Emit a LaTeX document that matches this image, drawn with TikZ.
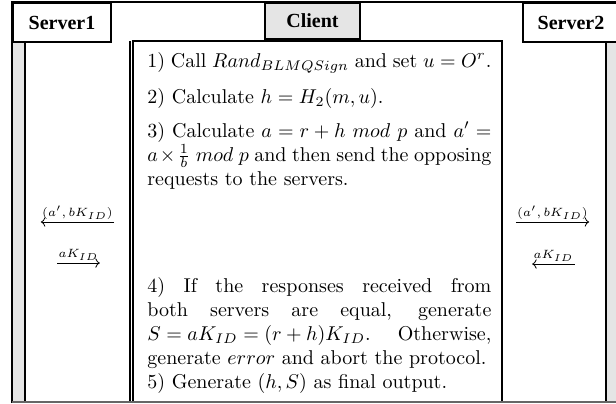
\documentclass[tikz,border=0pt]{standalone}
\usepackage{amsmath}
\usepackage{amssymb}
\usepackage{fontspec}
\newfontfamily\hdrfont{Liberation Serif}
\usetikzlibrary{arrows.meta}
\usetikzlibrary{positioning}

\begin{document}
\begin{tikzpicture}[x=0.5pt, y=-0.5pt,
        party/.style={draw, line width=1pt, inner sep=0pt, anchor=north west, font=\hdrfont\bfseries},
        stepnode/.style={text width=172pt, align=justify, inner sep=0pt, anchor=base west},
        msg/.style={font=\fontsize{6}{7}\selectfont, inner xsep=0.5pt, inner ysep=1pt, anchor=south},
        lane/.style={line width=0.6pt},
        >={Computer Modern Rightarrow[scale=0.9]}]
                \useasboundingbox (0,0) rectangle (616,403);
                % lanes
                \fill[gray!20] (12,41) rectangle (25,403);
                \fill[gray!20] (606,41) rectangle (616,403);
                \draw[line width=1pt] (12,403) -- (12,2) -- (616,2);
                \draw[lane] (25,41) -- (25,403);
                \draw[lane] (130,41) -- (130,403);
                \draw[line width=1.2pt] (133,403) -- (133,41) -- (502,41) -- (502,403);
                \draw[lane] (606,41) -- (606,403);
                \draw[black!60, line width=0.8pt] (12,402) -- (616,402);
                % parties
                \node[party, minimum width=49pt, minimum height=19.5pt] (srv1) at (12,2) {Server1};
                \node[party, fill=gray!20, minimum width=47.5pt, minimum height=18pt] (client) at (264,2) {Client};
                \node[party, minimum width=48pt, minimum height=19.5pt] (srv2) at (522,2) {Server2};
                % client steps
                \node[stepnode] (s1) at (147,67) {1) Call $Rand_{BLMQSign}$ and set $u = O^r$.};
                \node[stepnode] (s2) at (147,103) {2) Calculate $h = H_2(m, u)$.};
                \node[stepnode] (s3) at (147,137) {3) Calculate $a = r + h\ mod\ p$ and $a' =$\linebreak $a \times \frac{1}{b}\ mod\ p$ and then send the opposing\linebreak requests to the servers.};
                \node[stepnode] (s4) at (147,292) {4) If the responses received from\linebreak both servers are equal, generate\linebreak ${S = aK_{ID} = (r+h)K_{ID}}$. Otherwise,\linebreak generate $error$ and abort the protocol.};
                \node[stepnode] (s5) at (147,388) {5) Generate $(h, S)$ as final output.};
                % messages
                \node[msg] (reqL) at (77.5,222) {$(a',bK_{ID})$};
                \node[msg] (resL) at (78.5,263) {$aK_{ID}$};
                \node[msg] (reqR) at (552.5,222) {$(a',bK_{ID})$};
                \node[msg] (resR) at (553.5,264) {$aK_{ID}$};
                \draw[->] (reqL.south east) -- (reqL.south west);
                \draw[->] (resL.south west) -- (resL.south east);
                \draw[->] (reqR.south west) -- (reqR.south east);
                \draw[->] (resR.south east) -- (resR.south west);
            \end{tikzpicture}
\end{document}
